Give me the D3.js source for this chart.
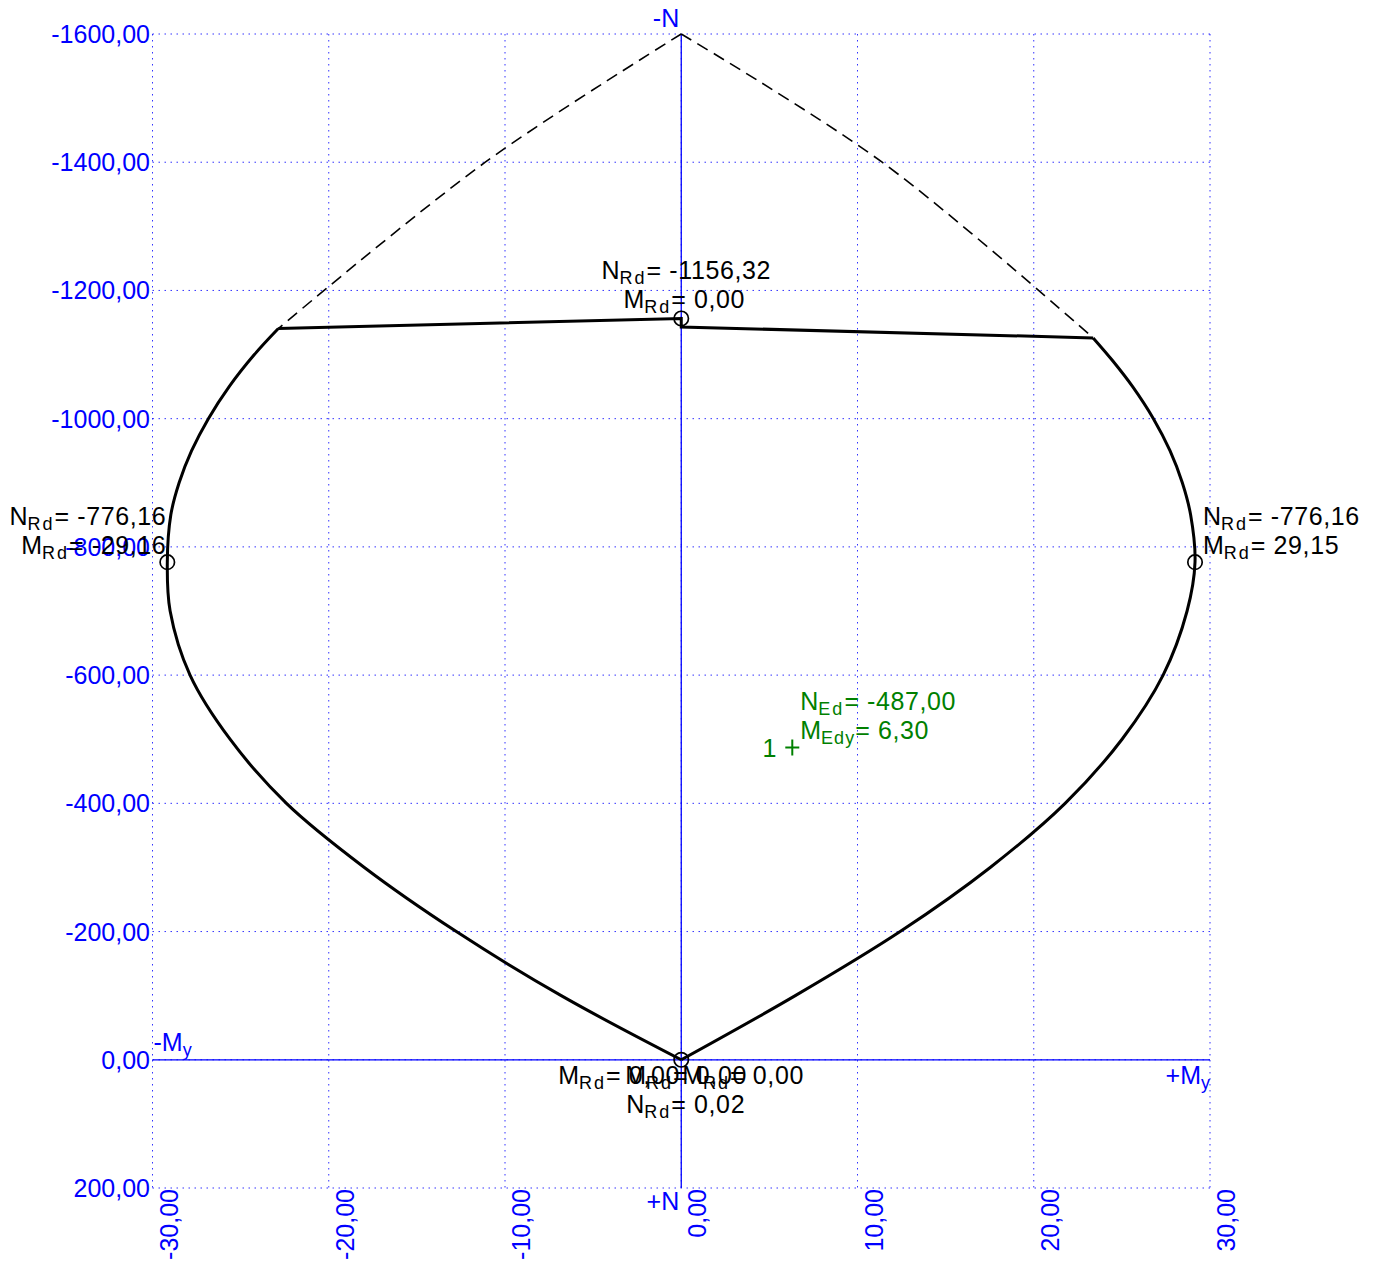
<!DOCTYPE html>
<html>
<head>
<meta charset="utf-8">
<script src="https://cdn.jsdelivr.net/npm/d3@7"></script>
<style>
  html, body { margin: 0; padding: 0; background: #fff; }
  svg { display: block; font-family: "Liberation Sans", Arial, sans-serif; }
</style>
</head>
<body>
<svg id="chart" width="1379" height="1263"></svg>
<script>
// Axis ticks
const momentTicks = [-30, -20, -10, 0, 10, 20, 30];
const axialTicks = [-1600, -1400, -1200, -1000, -800, -600, -400, -200, 0, 200];

// Interaction envelope (M [kNm], N [kN]) – left branch, top to bottom
const leftBranchM = [-22.86, -24.22, -25.65, -26.83, -27.78, -28.49, -28.96, -29.16, -29.0, -27.87, -25.6, -22.4, -17.98, -12.76, -6.81, 0];
const leftBranchN = [-1140.6, -1100, -1050, -1000, -950, -900, -850, -776.16, -700, -600, -500, -400, -300, -200, -100, 0];
// right branch, bottom to top
const rightBranchM = [0, 6.47, 12.42, 17.53, 21.78, 25.01, 27.34, 28.7, 29.15, 28.9, 28.43, 27.73, 26.79, 25.61, 24.49, 23.37];
const rightBranchN = [0, -100, -200, -300, -400, -500, -600, -700, -776.16, -850, -900, -950, -1000, -1050, -1090, -1126];

// Compression cap of the envelope
const capM = [-22.86, 0, 0, 23.37];
const capN = [-1140.6, -1156.32, -1143, -1126];

// Dashed extension up to the pure compression point
const dashLeftM = [0, -11.12, -22.86];
const dashLeftN = [-1600, -1400, -1140.6];
const dashRightM = [0, 11.4, 23.37];
const dashRightN = [-1600, -1400, -1126];

// Labelled resistance points
const rdM = [0, -29.16, 29.15, 0];
const rdN = [-1156.32, -776.16, -776.16, 0];
const rdNText = ["-1156,32", "-776,16", "-776,16", "0,02"];
const rdMText = ["0,00", "-29,16", "29,15", "0,00"];

// Design load
const edM = [6.30];
const edN = [-487.00];
const edNText = ["-487,00"];
const edMText = ["6,30"];
const edName = ["1"];

const svg = d3.select("#chart");
const x = d3.scaleLinear().domain([-30, 30]).range([152.5, 1210]);
const y = d3.scaleLinear().domain([-1600, 200]).range([34, 1188]);

const BLUE = "#0000ff";
const GREEN = "#008000";
const FS = 25;

// Grid
const grid = svg.append("g");
grid.selectAll("line.v").data(momentTicks).join("line")
  .attr("x1", d => x(d)).attr("x2", d => x(d))
  .attr("y1", y(-1600)).attr("y2", y(200))
  .attr("stroke", BLUE).attr("stroke-width", 1).attr("stroke-dasharray", "1.5,4.5").attr("opacity", 0.8);
grid.selectAll("line.h").data(axialTicks).join("line")
  .attr("y1", d => y(d)).attr("y2", d => y(d))
  .attr("x1", x(-30)).attr("x2", x(30))
  .attr("stroke", BLUE).attr("stroke-width", 1).attr("stroke-dasharray", "1.5,4.5").attr("opacity", 0.8);

// Zero axes
svg.append("line").attr("x1", x(0)).attr("x2", x(0)).attr("y1", y(-1600)).attr("y2", y(200))
  .attr("stroke", BLUE).attr("stroke-width", 1.3);
svg.append("line").attr("x1", x(-30)).attr("x2", x(30)).attr("y1", y(0)).attr("y2", y(0))
  .attr("stroke", BLUE).attr("stroke-width", 1.3);

// Decimal comma, plain hyphen for negatives
const fmt = v => d3.format(".2f")(v).replace(".", ",").replace("\u2212", "-");

// Y tick labels
svg.append("g").selectAll("text").data(axialTicks).join("text")
  .attr("x", 150).attr("y", d => y(d) + 9)
  .attr("text-anchor", "end").attr("font-size", FS).attr("fill", BLUE)
  .text(d => fmt(d));

// X tick labels (rotated)
svg.append("g").selectAll("text").data(momentTicks).join("text")
  .attr("transform", d => `translate(${x(d) + 25},${y(200) + 1}) rotate(-90)`)
  .attr("text-anchor", "end").attr("font-size", FS).attr("fill", BLUE)
  .text(d => fmt(d));

// Text with subscript helper
function subText(g, parts, opts) {
  const t = g.append("text")
    .attr("x", opts.x).attr("y", opts.y)
    .attr("text-anchor", opts.anchor || "start")
    .attr("font-size", FS).attr("fill", opts.fill || "#000");
  t.append("tspan").text(parts[0]);
  t.append("tspan").attr("font-size", 18).attr("letter-spacing", opts.subSpacing ?? 2)
    .attr("dy", 5).text(parts[1]);
  t.append("tspan").attr("dy", -5).attr("letter-spacing", opts.spacing ?? 0.6).text(parts[2]);
  return t;
}

// Axis names
svg.append("text").attr("x", x(0) - 2).attr("y", 27).attr("text-anchor", "end")
  .attr("font-size", FS).attr("fill", BLUE).text("-N");
svg.append("text").attr("x", x(0) - 2).attr("y", 1210).attr("text-anchor", "end")
  .attr("font-size", FS).attr("fill", BLUE).text("+N");
subText(svg, ["-M", "y", ""], { x: x(-30) + 1, y: y(0) - 9, fill: BLUE, subSpacing: 0, spacing: 0 });
subText(svg, ["+M", "y", ""], { x: x(30), y: y(0) + 24, fill: BLUE, anchor: "end", subSpacing: 0, spacing: 0 });

// Envelope
const line = d3.line().x(d => x(d[0])).y(d => y(d[1]));
const smooth = d3.line().x(d => x(d[0])).y(d => y(d[1])).curve(d3.curveCatmullRom.alpha(0.5));
const zipPts = (ms, ns) => ms.map((m, i) => [m, ns[i]]);

svg.append("path").datum(zipPts(dashLeftM, dashLeftN)).attr("d", smooth)
  .attr("fill", "none").attr("stroke", "#000").attr("stroke-width", 1.6).attr("stroke-dasharray", "12,7");
svg.append("path").datum(zipPts(dashRightM, dashRightN)).attr("d", smooth)
  .attr("fill", "none").attr("stroke", "#000").attr("stroke-width", 1.6).attr("stroke-dasharray", "12,7");

svg.append("path").datum(zipPts(leftBranchM, leftBranchN)).attr("d", smooth)
  .attr("fill", "none").attr("stroke", "#000").attr("stroke-width", 3);
svg.append("path").datum(zipPts(rightBranchM, rightBranchN)).attr("d", smooth)
  .attr("fill", "none").attr("stroke", "#000").attr("stroke-width", 3);
svg.append("path").datum(zipPts(capM, capN)).attr("d", line)
  .attr("fill", "none").attr("stroke", "#000").attr("stroke-width", 3);

// Resistance markers
svg.append("g").selectAll("circle").data(rdM).join("circle")
  .attr("cx", (d, i) => x(d)).attr("cy", (d, i) => y(rdN[i])).attr("r", 7.2)
  .attr("fill", "none").attr("stroke", "#000").attr("stroke-width", 1.7);

const lab = svg.append("g");
// top point
subText(lab, ["N", "Rd", "= " + rdNText[0]], { x: x(rdM[0]) + 5, y: y(rdN[0]) - 39, anchor: "middle" });
subText(lab, ["M", "Rd", "= " + rdMText[0]], { x: x(rdM[0]) + 3, y: y(rdN[0]) - 10, anchor: "middle" });
// left point
subText(lab, ["N", "Rd", "= " + rdNText[1]], { x: x(rdM[1]) - 1, y: y(rdN[1]) - 37, anchor: "end" });
subText(lab, ["M", "Rd", "= " + rdMText[1]], { x: x(rdM[1]) - 1, y: y(rdN[1]) - 8, anchor: "end" });
// right point
subText(lab, ["N", "Rd", "= " + rdNText[2]], { x: x(rdM[2]) + 8, y: y(rdN[2]) - 37 });
subText(lab, ["M", "Rd", "= " + rdMText[2]], { x: x(rdM[2]) + 8, y: y(rdN[2]) - 8 });
// origin: overlapping moment labels of coincident points
[-123, -56, 1].forEach(dx => {
  subText(lab, ["M", "Rd", "= " + rdMText[3]], { x: x(rdM[3]) + dx, y: y(rdN[3]) + 24 });
});
subText(lab, ["N", "Rd", "= " + rdNText[3]], { x: x(rdM[3]) - 55, y: y(rdN[3]) + 53 });

// Design load point
const ex = x(edM[0]), ey = y(edN[0]);
svg.append("path").attr("d", `M${ex - 7},${ey}H${ex + 7}M${ex},${ey - 8}V${ey + 8}`)
  .attr("stroke", GREEN).attr("stroke-width", 2).attr("fill", "none");
svg.append("text").attr("x", ex - 16).attr("y", ey + 9).attr("text-anchor", "end")
  .attr("font-size", FS).attr("fill", GREEN).text(edName[0]);
subText(svg, ["N", "Ed", "= " + edNText[0]], { x: ex + 8, y: ey - 38, fill: GREEN });
subText(svg, ["M", "Edy", "= " + edMText[0]], { x: ex + 8, y: ey - 9, fill: GREEN, subSpacing: 1 });
</script>
</body>
</html>
